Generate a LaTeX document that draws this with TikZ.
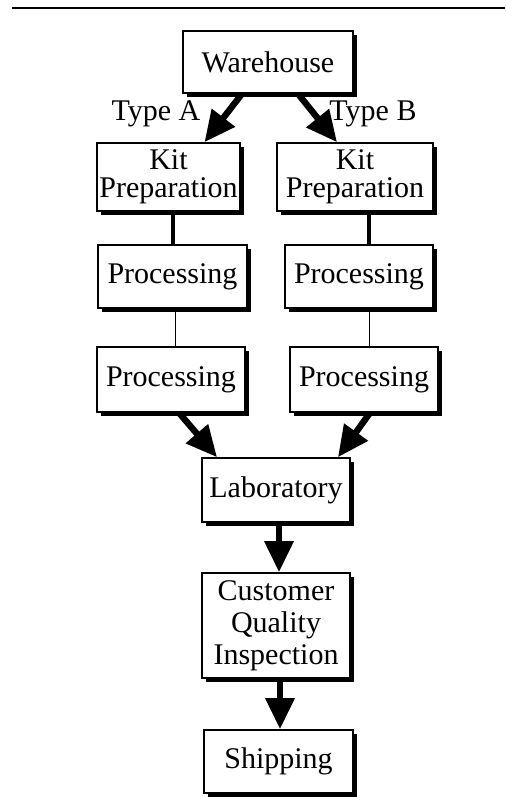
\documentclass[tikz,border=0pt]{standalone}
\usepackage{fontspec}
\setmainfont{Liberation Serif}
\usetikzlibrary{arrows.meta,shadows}

\begin{document}
\begin{tikzpicture}[x=0.5pt, y=-0.5pt,
    every node/.style={font=\fontsize{15pt}{14pt}\selectfont},
    box/.style={draw, line width=0.8pt, fill=white, align=center, inner sep=1pt,
        drop shadow={shadow xshift=2pt, shadow yshift=-2pt, fill=black, opacity=1}},
    flow/.style={line width=3.2pt, -{Triangle[length=15.5pt, width=14pt]}},
    link/.style={line width=2pt},
    thinlink/.style={line width=0.5pt}]
    \useasboundingbox (0,0) rectangle (505,797);

    % rule above the chart
    \draw[line width=0.8pt] (12,8) -- (505,8);

    % Nodes with manual coordinates
    \node[box, minimum width=85pt, minimum height=31pt] (ware) at (268,62) {Warehouse};
    \node[box, minimum width=71.5pt, minimum height=34pt] (kitA) at (168.5,177) {Kit\\Preparation};
    \node[box, minimum width=78pt, minimum height=34pt] (kitB) at (355,177) {Kit\\Preparation};
    \node[box, minimum width=74.5pt, minimum height=31.5pt] (procA1) at (172.5,276.5) {Processing};
    \node[box, minimum width=74pt, minimum height=31.5pt] (procB1) at (359,276.5) {Processing};
    \node[box, minimum width=74pt, minimum height=32.5pt] (procA2) at (171,379.5) {Processing};
    \node[box, minimum width=74pt, minimum height=32.5pt] (procB2) at (364,379.5) {Processing};
    \node[box, minimum width=74pt, minimum height=32pt] (lab) at (276,490) {Laboratory};
    \node[box, minimum width=74pt, minimum height=52.5pt,
        font=\fontsize{15pt}{16pt}\selectfont] (cqi) at (276,625.5) {Customer\\Quality\\Inspection};
    \node[box, minimum width=74.5pt, minimum height=31.5pt] (ship) at (278.5,761.5) {Shipping};

    \node (typeA) at (156,114) {Type A};
    \node (typeB) at (373,114) {Type B};

    % Edges
    \draw[flow] ([xshift=-13pt]ware.south) -- ([xshift=18pt]kitA.north);
    \draw[flow] ([xshift=15pt]ware.south) -- ([xshift=-9pt]kitB.north);
    \draw[link] (kitA.south -| procA1) -- (procA1.north);
    \draw[link] ([xshift=7pt]kitB.south) -- ([xshift=7pt]kitB.south |- procB1.north);
    \draw[thinlink] ([xshift=1.5pt]procA1.south) -- ([xshift=1.5pt]procA1.south |- procA2.north);
    \draw[thinlink] ([xshift=5pt]procB1.south) -- ([xshift=5pt]procB1.south |- procB2.north);
    \draw[flow] ([xshift=4pt]procA2.south) -- ([xshift=-29.5pt]lab.north);
    \draw[flow] ([xshift=3pt]procB2.south) -- ([xshift=31pt]lab.north);
    \draw[flow] ([xshift=1.5pt]lab.south) -- ([xshift=1.5pt]lab.south |- cqi.north);
    \draw[flow] ([xshift=2pt]cqi.south) -- ([xshift=2pt]cqi.south |- ship.north);
\end{tikzpicture}
\end{document}
